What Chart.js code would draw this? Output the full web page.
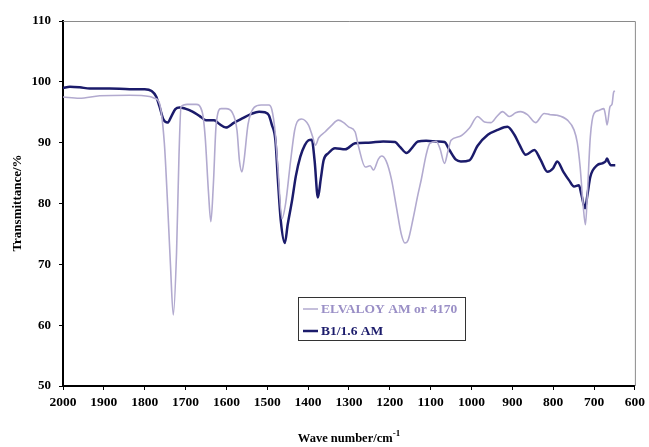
<!DOCTYPE html>
<html>
<head>
<meta charset="utf-8">
<script src="https://cdn.jsdelivr.net/npm/chart.js@4.4.1/dist/chart.umd.min.js"></script>
<style>
  html, body { margin: 0; padding: 0; background: #fff; }
  #wrap { position: relative; width: 649px; height: 447px; }
</style>
</head>
<body>
<div id="wrap"><canvas id="c" width="649" height="447"></canvas></div>
<script>
// FTIR spectra, wavenumber (cm-1) vs transmittance (%)
const elvaloyWave = [2000,1960,1910,1837,1788,1776,1764,1752,1744,1737,1730,1722,1716,1711,1696,1674,1659,1652,1644,1638,1632,1625,1613,1601,1586,1574,1568,1562,1557,1547,1532,1515,1496,1489,1481,1474,1464,1455,1443,1433,1427,1416,1399,1389,1382,1374,1358,1343,1326,1313,1301,1285,1277,1260,1248,1240,1228,1220,1209,1196,1184,1172,1163,1155,1143,1131,1123,1111,1102,1086,1077,1066,1058,1050,1029,1005,985,968,952,938,924,907,892,880,863,843,822,807,790,765,749,741,734,727,721,716,709,700,688,676,672,668,661,656,652,649];
const elvaloyT = [97.5,97.3,97.7,97.8,97.6,97.3,96.5,90.0,80.0,70.0,61.7,72.0,88.0,95.9,96.3,96.3,95.0,91.0,82.0,77.0,83.0,93.0,95.6,95.6,95.0,92.0,87.0,85.2,87.0,93.0,95.8,96.2,96.2,95.5,92.0,86.0,77.5,80.0,86.9,92.0,93.4,93.9,92.9,91.0,89.6,90.8,91.8,92.8,93.7,93.3,92.6,91.8,89.5,86.0,86.2,85.5,87.3,87.8,87.0,84.0,79.5,75.0,73.5,74.0,77.5,81.5,83.9,88.0,89.9,90.2,89.0,86.6,88.5,90.4,91.0,92.4,94.3,93.4,93.3,94.3,95.1,94.3,94.9,95.1,94.6,93.3,94.8,94.6,94.5,93.7,92.1,90.0,86.0,80.0,76.5,82.0,91.0,94.8,95.3,95.6,94.5,92.9,95.9,96.3,98.3,98.5];

const blendWave = [2000,1983,1959,1934,1886,1837,1800,1783,1772,1764,1754,1744,1735,1725,1715,1701,1683,1666,1650,1630,1618,1601,1581,1561,1540,1520,1506,1496,1489,1480,1474,1467,1457,1450,1439,1430,1419,1408,1399,1391,1384,1376,1369,1362,1350,1334,1309,1285,1252,1216,1187,1175,1159,1145,1131,1111,1082,1066,1054,1038,1026,1005,985,960,936,912,895,882,867,846,831,814,800,790,775,761,749,737,731,722,716,709,692,680,672,668,664,659,648];
const blendT = [99.0,99.2,99.1,98.9,98.9,98.8,98.8,98.5,97.6,96.0,93.8,93.3,94.3,95.5,95.8,95.6,95.1,94.4,93.7,93.7,93.1,92.5,93.3,94.0,94.7,95.1,95.0,94.5,93.0,90.4,84.0,77.3,73.5,76.5,80.6,84.5,87.7,89.6,90.4,90.5,87.0,81.0,84.0,87.1,88.3,89.1,88.9,89.9,90.0,90.2,90.1,89.3,88.3,89.2,90.2,90.3,90.2,90.1,88.8,87.2,86.9,87.1,89.5,91.3,92.1,92.6,91.3,89.6,88.0,88.8,87.2,85.2,85.8,86.9,85.2,83.8,82.8,83.0,81.5,79.2,81.5,84.4,86.3,86.6,86.9,87.4,86.8,86.3,86.3];

const seriesNames = ['ELVALOY AM or 4170', 'B1/1.6 AM'];
const xTicks = [2000,1900,1800,1700,1600,1500,1400,1300,1200,1100,1000,900,800,700,600];
const yTicks = [50,60,70,80,90,100,110];

const lineColors = ['#b2aacf', '#1b1b6b'];
const legendTextColors = ['#9a8fc6', '#1b1b6b'];
const serif = '"Liberation Serif", "Times New Roman", serif';

function toPoints(xs, ys) { return xs.map((x, i) => ({ x: x, y: ys[i] })); }

// frame (grey top/right border), axis titles and the boxed legend
const decorations = {
  id: 'decorations',
  afterDraw(chart) {
    const ctx = chart.ctx;
    const a = chart.chartArea;
    ctx.save();
    ctx.strokeStyle = '#8a8a8a';
    ctx.lineWidth = 1;
    ctx.beginPath();
    ctx.moveTo(a.left, a.top + 0.5);
    ctx.lineTo(a.right + 0.5, a.top + 0.5);
    ctx.lineTo(a.right + 0.5, a.bottom);
    ctx.stroke();

    // y title
    ctx.fillStyle = '#000';
    ctx.font = 'bold 13px ' + serif;
    ctx.textAlign = 'center';
    ctx.textBaseline = 'middle';
    ctx.translate(18, 203);
    ctx.rotate(-Math.PI / 2);
    ctx.fillText('Transmittance/%', 0, 0);
    ctx.setTransform(1, 0, 0, 1, 0, 0);

    // x title with superscript
    const main = 'Wave number/cm';
    const sup = '-1';
    ctx.font = 'bold 12.5px ' + serif;
    const w1 = ctx.measureText(main).width;
    ctx.font = 'bold 9px ' + serif;
    const w2 = ctx.measureText(sup).width;
    const cx = 349;
    const x0 = cx - (w1 + w2) / 2;
    ctx.textAlign = 'left';
    ctx.textBaseline = 'alphabetic';
    ctx.font = 'bold 12.5px ' + serif;
    ctx.fillText(main, x0, 442);
    ctx.font = 'bold 9px ' + serif;
    ctx.fillText(sup, x0 + w1, 436);

    // legend box
    const bx = 298, by = 297, bw = 167, bh = 43;
    ctx.fillStyle = '#fff';
    ctx.fillRect(bx, by, bw, bh);
    ctx.strokeStyle = '#333';
    ctx.lineWidth = 1;
    ctx.strokeRect(bx + 0.5, by + 0.5, bw, bh);
    ctx.font = 'bold 13.5px ' + serif;
    ctx.textBaseline = 'middle';
    chart.data.datasets.forEach((ds, i) => {
      const ly = by + 12 + i * 22;
      ctx.strokeStyle = ds.borderColor;
      ctx.lineWidth = i === 0 ? 1.5 : 2.5;
      ctx.beginPath();
      ctx.moveTo(bx + 5, ly);
      ctx.lineTo(bx + 20, ly);
      ctx.stroke();
      ctx.fillStyle = legendTextColors[i];
      ctx.fillText(ds.label, bx + 23, ly + 1);
    });
    ctx.restore();
  }
};

new Chart(document.getElementById('c'), {
  type: 'line',
  data: {
    datasets: [
      { label: seriesNames[0], data: toPoints(elvaloyWave, elvaloyT), borderColor: lineColors[0], borderWidth: 1.6, pointRadius: 0, cubicInterpolationMode: 'monotone', fill: false },
      { label: seriesNames[1], data: toPoints(blendWave, blendT), borderColor: lineColors[1], borderWidth: 2.5, pointRadius: 0, cubicInterpolationMode: 'monotone', fill: false }
    ]
  },
  plugins: [decorations],
  options: {
    responsive: false,
    animation: false,
    events: [],
    layout: { padding: { top: 21, right: 11, left: 0, bottom: 0 } },
    plugins: { legend: { display: false }, tooltip: { enabled: false } },
    scales: {
      x: {
        type: 'linear',
        reverse: true,
        min: 600, max: 2000,
        afterBuildTicks: s => { s.ticks = xTicks.map(v => ({ value: v })); },
        afterFit: s => { s.height = 61; },
        ticks: { color: '#000', font: { family: serif, weight: 'bold', size: 13.5 }, padding: 4, maxRotation: 0, autoSkip: false, callback: v => String(v) },
        grid: { display: true, drawOnChartArea: false, drawTicks: true, tickLength: 4, color: '#000', lineWidth: 1 },
        border: { display: true, color: '#000', width: 2 }
      },
      y: {
        min: 50, max: 110,
        afterBuildTicks: s => { s.ticks = yTicks.map(v => ({ value: v })); },
        afterFit: s => { s.width = 63; },
        ticks: { color: '#000', font: { family: serif, weight: 'bold', size: 13 }, padding: 8, callback: v => String(v) },
        grid: { display: true, drawOnChartArea: false, drawTicks: true, tickLength: 4, color: '#000', lineWidth: 1 },
        border: { display: true, color: '#000', width: 2 }
      }
    }
  }
});
</script>
</body>
</html>
